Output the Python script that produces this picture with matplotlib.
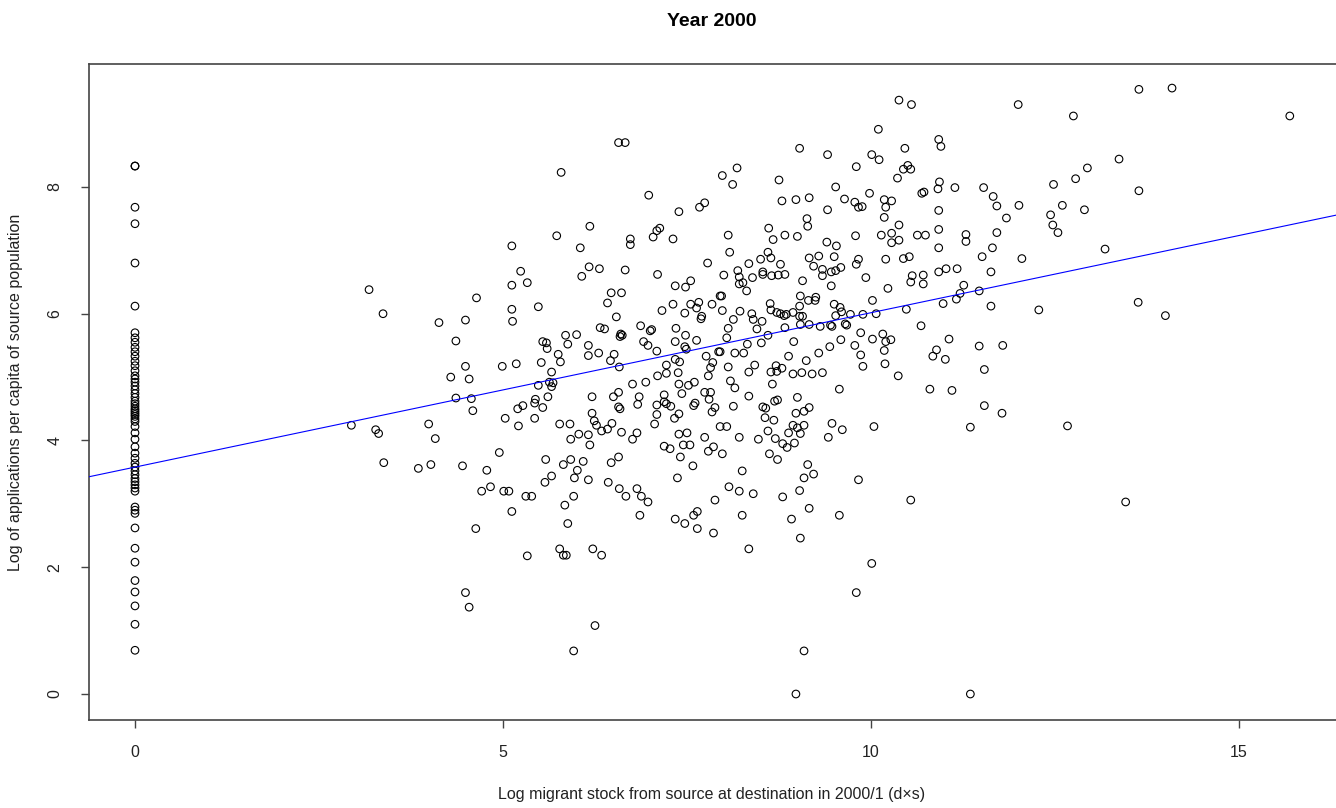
"""Year 2000: log applications per capita vs log migrant stock (R-style scatter)."""
import numpy as np
import matplotlib
matplotlib.use("Agg")
import matplotlib.pyplot as plt

plt.rcParams['font.family'] = ['Liberation Sans', 'DejaVu Sans']

# --- data --------------------------------------------------------------
# sources with no migrant stock (x = 0)
zero_apps = [8.33, 8.33, 7.68, 7.42, 6.80, 6.12, 5.70, 5.62, 5.55, 5.47, 5.40,
             5.33, 5.25, 5.18, 5.10, 5.02, 4.97, 4.92, 4.86, 4.80, 4.74, 4.68,
             4.62, 4.58, 4.54, 4.50, 4.47, 4.44, 4.41, 4.38, 4.34, 4.30, 4.22,
             4.12, 4.02, 3.90, 3.80, 3.72, 3.64, 3.58, 3.52, 3.46, 3.40, 3.35,
             3.30, 3.25, 3.20, 2.95, 2.90, 2.85, 2.62, 2.30, 2.08, 1.79, 1.61,
             1.39, 1.10, 0.69]

# (log stock, log applications) pairs, grouped by area of the plot
pts_left = [
    (5.24, 6.67), (5.12, 6.45), (5.33, 6.49), (3.18, 6.38), (4.64, 6.25), (5.48, 6.11),
    (3.37, 6.00), (5.12, 6.07), (4.13, 5.86), (4.49, 5.90), (5.13, 5.88), (4.36, 5.57),
    (4.49, 5.17), (4.99, 5.17), (5.18, 5.21), (4.29, 5.00), (4.54, 4.97), (5.48, 4.87),
    (4.36, 4.67), (4.57, 4.66), (4.59, 4.47), (5.20, 4.50), (5.27, 4.55), (5.44, 4.65),
    (5.43, 4.59), (5.03, 4.35), (5.21, 4.23), (5.43, 4.35), (2.94, 4.24), (3.27, 4.17),
    (3.31, 4.11), (3.99, 4.26), (4.08, 4.03), (4.95, 3.81), (3.38, 3.65), (3.85, 3.56),
    (4.02, 3.62), (4.45, 3.60), (4.78, 3.53), (4.71, 3.20), (4.83, 3.27), (5.01, 3.20),
    (5.08, 3.20), (5.31, 3.12), (5.39, 3.12), (5.12, 2.88), (4.63, 2.61), (5.33, 2.18),
    (4.49, 1.60), (4.54, 1.37), (5.12, 7.07),
]

pts_mid_upper = [
    (6.57, 8.70), (6.66, 8.70), (5.79, 8.23), (7.98, 8.18), (8.18, 8.30), (8.12, 8.04),
    (6.98, 7.87), (7.39, 7.61), (7.67, 7.68), (7.74, 7.75), (6.18, 7.38), (5.73, 7.23),
    (6.05, 7.04), (6.73, 7.18), (6.73, 7.09), (7.04, 7.21), (7.09, 7.31), (7.13, 7.35),
    (7.31, 7.18), (8.06, 7.24), (8.08, 6.97), (7.78, 6.80), (6.17, 6.74), (6.07, 6.59),
    (6.31, 6.71), (6.66, 6.69), (7.10, 6.62), (8.00, 6.61), (8.19, 6.68), (8.21, 6.58),
    (8.26, 6.49), (8.21, 6.47), (8.31, 6.36), (8.34, 6.79), (7.34, 6.44), (7.48, 6.42),
    (7.55, 6.52), (6.47, 6.33), (6.61, 6.33), (6.42, 6.17), (6.54, 5.95), (7.16, 6.05),
    (7.31, 6.15), (7.47, 6.01), (7.55, 6.15), (7.63, 6.09), (7.66, 6.18), (7.69, 5.92),
    (7.70, 5.96), (7.84, 6.15), (7.95, 6.28), (7.97, 6.28), (7.98, 6.05), (8.13, 5.91),
    (8.22, 6.04), (6.32, 5.78), (6.38, 5.76), (6.60, 5.68), (6.62, 5.66), (6.59, 5.64),
    (6.87, 5.81), (7.00, 5.73), (7.02, 5.75), (7.35, 5.77), (7.48, 5.66), (7.63, 5.58),
    (7.34, 5.56), (8.06, 5.77), (8.04, 5.62), (5.85, 5.66), (6.00, 5.67), (5.54, 5.56),
    (5.59, 5.54), (5.60, 5.45), (5.88, 5.52), (6.16, 5.50), (6.16, 5.34), (6.30, 5.38),
    (6.51, 5.36), (6.46, 5.26), (6.91, 5.56), (6.97, 5.50), (7.09, 5.41), (7.47, 5.48),
    (7.49, 5.44), (5.75, 5.36), (5.78, 5.24), (5.52, 5.23), (6.58, 5.16), (7.34, 5.28),
    (7.40, 5.24), (7.76, 5.33), (7.85, 5.23), (7.82, 5.15), (7.93, 5.40), (7.95, 5.40),
    (8.15, 5.38), (8.27, 5.38), (8.32, 5.52), (8.06, 5.16), (5.66, 5.08), (5.63, 4.92),
    (5.68, 4.91), (5.66, 4.85), (7.22, 5.19), (7.22, 5.06), (7.10, 5.02), (7.38, 5.07),
    (7.79, 5.02), (6.76, 4.89), (6.94, 4.92), (7.39, 4.89), (7.52, 4.87), (7.60, 4.92),
    (8.09, 4.94), (8.15, 4.83), (8.34, 5.08), (5.61, 4.69), (6.21, 4.69), (6.50, 4.69),
    (6.57, 4.76), (6.85, 4.69), (6.83, 4.57), (7.19, 4.72), (7.19, 4.61), (7.22, 4.58),
    (7.28, 4.54), (7.09, 4.56), (7.43, 4.74), (7.74, 4.76), (7.82, 4.76), (7.80, 4.65),
    (7.61, 4.59), (7.59, 4.55), (8.13, 4.54), (8.34, 4.70), (6.57, 4.53), (6.59, 4.50),
    (7.88, 4.52), (5.54, 4.52),
]

pts_mid_lower = [
    (6.21, 4.43), (7.09, 4.41), (7.39, 4.42), (7.33, 4.35), (7.84, 4.45), (5.77, 4.26),
    (5.91, 4.26), (6.24, 4.31), (6.27, 4.24), (6.34, 4.15), (6.42, 4.18), (6.48, 4.27),
    (6.61, 4.13), (6.82, 4.12), (6.76, 4.02), (7.06, 4.26), (7.39, 4.10), (7.50, 4.12),
    (7.95, 4.22), (8.04, 4.22), (7.74, 4.05), (8.21, 4.05), (6.03, 4.10), (6.16, 4.09),
    (5.92, 4.02), (6.18, 3.93), (7.19, 3.91), (7.27, 3.87), (7.45, 3.93), (7.54, 3.93),
    (7.79, 3.83), (7.86, 3.90), (7.98, 3.79), (5.58, 3.70), (5.82, 3.62), (5.92, 3.70),
    (6.09, 3.67), (6.47, 3.65), (6.57, 3.74), (7.41, 3.74), (7.58, 3.60), (6.01, 3.53),
    (5.97, 3.41), (5.66, 3.44), (5.57, 3.34), (6.16, 3.38), (6.43, 3.34), (6.58, 3.24),
    (6.67, 3.12), (6.82, 3.24), (6.88, 3.12), (6.97, 3.03), (7.37, 3.41), (8.25, 3.52),
    (8.07, 3.27), (8.21, 3.20), (7.88, 3.06), (5.96, 3.12), (5.84, 2.98), (5.88, 2.69),
    (6.86, 2.82), (7.34, 2.76), (7.47, 2.69), (7.64, 2.61), (7.59, 2.82), (7.64, 2.88),
    (7.86, 2.54), (8.25, 2.82), (8.34, 2.29), (5.77, 2.29), (5.82, 2.19), (5.86, 2.19),
    (6.22, 2.29), (6.34, 2.19), (6.25, 1.08), (5.96, 0.68),
]

pts_right_upper = [
    (10.10, 8.91), (9.03, 8.61), (9.41, 8.51), (10.01, 8.51), (10.11, 8.43), (9.80, 8.32),
    (10.46, 8.61), (10.92, 8.75), (10.95, 8.64), (10.44, 8.28), (10.50, 8.34), (10.54, 8.28),
    (10.36, 8.14), (8.75, 8.11), (9.52, 8.00), (9.98, 7.90), (10.93, 8.08), (10.91, 7.97),
    (10.69, 7.90), (10.72, 7.92), (8.79, 7.78), (8.98, 7.80), (9.16, 7.83), (9.64, 7.81),
    (9.78, 7.76), (9.83, 7.68), (9.88, 7.69), (9.41, 7.64), (10.18, 7.80), (10.28, 7.78),
    (10.20, 7.68), (10.18, 7.52), (10.92, 7.63), (9.13, 7.50), (9.14, 7.38), (8.61, 7.35),
    (8.67, 7.17), (8.83, 7.24), (9.00, 7.22), (9.79, 7.23), (10.14, 7.24), (10.28, 7.27),
    (10.38, 7.40), (10.28, 7.12), (10.38, 7.16), (10.63, 7.24), (10.74, 7.24), (10.92, 7.33),
    (10.92, 7.04), (9.40, 7.13), (9.53, 7.07), (9.16, 6.88), (9.29, 6.91), (9.50, 6.90),
    (8.60, 6.97), (8.64, 6.88), (8.50, 6.86), (8.77, 6.78), (9.22, 6.75), (9.34, 6.70),
    (9.46, 6.66), (9.52, 6.68), (9.59, 6.73), (9.34, 6.60), (9.83, 6.86), (9.80, 6.78),
    (9.93, 6.57), (10.20, 6.86), (10.44, 6.87), (10.52, 6.90), (10.92, 6.66), (11.02, 6.71),
    (10.56, 6.60), (10.54, 6.50), (10.71, 6.61), (10.71, 6.47), (10.23, 6.40), (8.39, 6.57),
    (8.53, 6.66), (8.53, 6.62), (8.65, 6.60), (8.74, 6.61), (8.83, 6.62), (9.07, 6.52),
    (9.46, 6.44), (9.04, 6.28), (9.15, 6.21), (9.24, 6.21), (9.25, 6.26), (8.63, 6.16),
    (8.64, 6.06), (8.72, 6.02), (8.77, 6.00), (8.82, 5.97), (8.85, 5.99), (8.94, 6.02),
    (9.03, 6.12), (9.03, 5.96), (9.07, 5.96), (8.38, 6.00), (8.40, 5.91), (8.52, 5.88),
    (8.45, 5.76), (9.50, 6.15), (9.58, 6.10), (9.60, 6.03), (9.52, 5.97), (9.72, 5.99),
    (9.89, 5.99), (10.07, 6.00), (10.02, 6.21), (10.48, 6.07), (10.98, 6.16), (8.83, 5.78),
    (9.04, 5.83), (9.16, 5.83), (9.31, 5.80), (9.45, 5.82), (9.47, 5.80), (9.65, 5.84),
    (9.67, 5.82), (8.60, 5.66), (8.51, 5.54), (8.95, 5.56), (9.59, 5.59), (9.86, 5.70),
    (9.78, 5.50), (9.86, 5.35), (9.89, 5.17), (10.02, 5.60), (10.16, 5.68), (10.20, 5.56),
    (10.27, 5.59), (10.18, 5.42), (10.19, 5.21), (10.37, 5.02), (9.44, 5.48), (9.29, 5.38),
    (9.12, 5.26), (8.88, 5.33), (10.68, 5.81), (11.06, 5.60), (10.89, 5.43), (10.84, 5.33),
    (11.01, 5.28), (8.42, 5.19), (8.64, 5.08), (8.71, 5.18), (8.72, 5.09), (8.79, 5.14),
    (8.94, 5.05), (9.06, 5.07), (9.20, 5.05), (9.34, 5.07), (8.66, 4.89), (9.57, 4.81),
    (10.80, 4.81), (8.69, 4.62), (8.73, 4.64), (9.00, 4.68), (8.53, 4.53), (8.57, 4.51),
    (9.16, 4.52), (10.38, 9.37), (10.55, 9.30),
]

pts_right_lower = [
    (8.56, 4.36), (8.68, 4.32), (8.98, 4.43), (9.09, 4.46), (8.94, 4.24), (9.00, 4.20),
    (9.09, 4.24), (9.04, 4.11), (8.88, 4.12), (8.60, 4.15), (8.47, 4.02), (8.70, 4.03),
    (8.80, 3.95), (8.86, 3.89), (8.96, 3.96), (8.62, 3.79), (8.73, 3.70), (9.47, 4.27),
    (9.61, 4.17), (9.42, 4.05), (10.04, 4.22), (9.14, 3.62), (9.22, 3.47), (9.09, 3.41),
    (9.83, 3.38), (9.03, 3.21), (8.80, 3.11), (8.40, 3.16), (9.16, 2.93), (8.92, 2.76),
    (9.57, 2.82), (9.04, 2.46), (10.54, 3.06), (10.01, 2.06), (9.80, 1.60), (9.09, 0.68),
    (8.98, 0.00),
]

pts_far = [
    (12.00, 9.30), (12.75, 9.12), (13.64, 9.54), (13.37, 8.44), (12.94, 8.30), (12.78, 8.13),
    (12.48, 8.04), (11.14, 7.99), (11.53, 7.99), (11.66, 7.85), (11.71, 7.70), (12.01, 7.71),
    (11.84, 7.51), (12.60, 7.71), (12.44, 7.56), (12.47, 7.40), (12.54, 7.28), (12.90, 7.64),
    (11.29, 7.25), (11.29, 7.14), (11.71, 7.28), (11.65, 7.04), (11.51, 6.90), (12.05, 6.87),
    (13.18, 7.02), (13.64, 7.94), (11.17, 6.71), (11.63, 6.66), (11.26, 6.45), (11.21, 6.32),
    (11.16, 6.23), (11.47, 6.36), (11.63, 6.12), (12.28, 6.06), (13.63, 6.18), (11.47, 5.49),
    (11.79, 5.50), (11.54, 5.12), (11.10, 4.79), (11.54, 4.55), (11.78, 4.43), (11.35, 4.21),
    (12.67, 4.23), (13.46, 3.03), (11.35, 0.00), (14.09, 9.56), (15.69, 9.12), (14.00, 5.97),
]

# fitted line
fit_intercept = 3.58
fit_slope = 0.2436

# --- assemble ------------------------------------------------------------
pairs = np.array(pts_left + pts_mid_upper + pts_mid_lower
                 + pts_right_upper + pts_right_lower + pts_far)
stock = np.concatenate([np.zeros(len(zero_apps)), pairs[:, 0]])
apps = np.concatenate([np.array(zero_apps), pairs[:, 1]])

W, H = 1336, 808
fig = plt.figure(figsize=(W / 100, H / 100), dpi=100)
# axes box: left 89px, top 64px, bottom 720px, runs off the right edge
ax = fig.add_axes([89 / W, (H - 720) / H, (1342 - 89) / W, (720 - 64) / H])

ax.scatter(stock, apps, s=30, facecolors='none', edgecolors='black',
           linewidths=0.8, zorder=2)
ax.axline((0, fit_intercept), slope=fit_slope, color='#0000ff', lw=0.8, zorder=3)

ax.set_xlim(-0.625, (1342 - 135) / 73.6)
ax.set_ylim(-0.41, 9.94)
ax.set_xticks([0, 5, 10, 15])
ax.set_yticks([0, 2, 4, 6, 8])

for s in ax.spines.values():
    s.set_color('#444444')
    s.set_linewidth(1.2)
ax.spines['right'].set_visible(False)

ax.tick_params(axis='both', direction='out', length=6, width=1.0,
               color='#444444', labelsize=11.5, labelcolor='#222222')
ax.tick_params(axis='x', pad=12)
ax.tick_params(axis='y', pad=13, labelrotation=90)
for lbl in ax.get_yticklabels():
    lbl.set_va('center')

fig.text(712 / W, 1 - 21 / H, 'Year 2000', ha='center', va='center',
         fontsize=14, fontweight='bold')
fig.text(712 / W, 1 - 795 / H, 'Log migrant stock from source at destination in 2000/1 (d\u00d7s)',
         ha='center', va='center', fontsize=11.5, color='#222222')
fig.text(16 / W, 1 - 392 / H, 'Log of applications per capita of source population',
         ha='center', va='center', rotation=90, fontsize=11.5, color='#222222')

fig.savefig('out.png', dpi=100, facecolor='white')
